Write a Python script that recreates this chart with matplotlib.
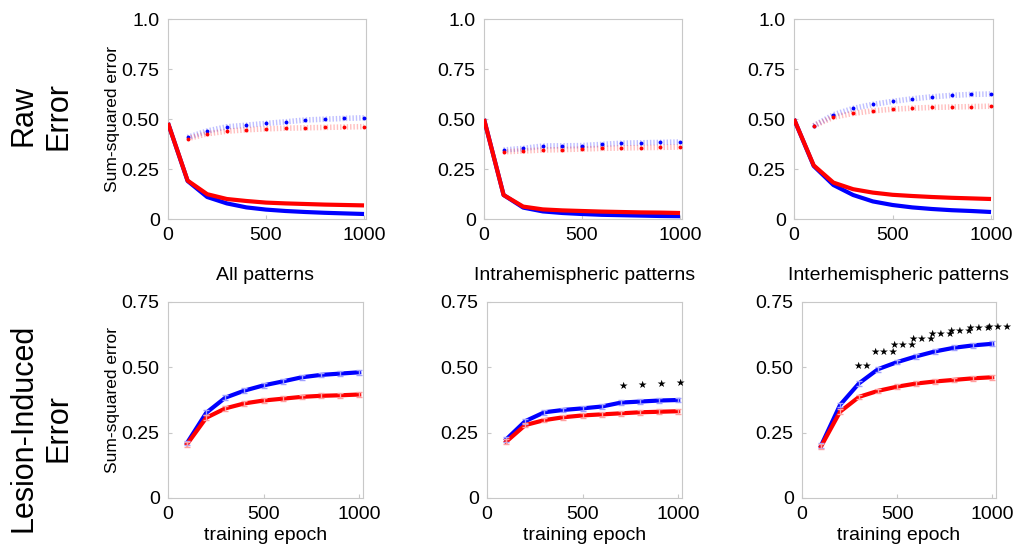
import numpy as np
import matplotlib
matplotlib.use('Agg')
import matplotlib.pyplot as plt

plt.rcParams['font.family'] = ['Liberation Sans', 'DejaVu Sans']

# --- Data ---
panel_titles = ["All patterns", "Intrahemispheric patterns", "Interhemispheric patterns"]
epochs_train = [0, 100, 200, 300, 400, 500, 600, 700, 800, 900, 1000]
epochs = [100, 200, 300, 400, 500, 600, 700, 800, 900, 1000]

# raw error, intact training curves (solid)
raw_blue = [
    [0.48, 0.19, 0.110, 0.078, 0.058, 0.047, 0.040, 0.035, 0.031, 0.028, 0.025],
    [0.50, 0.12, 0.057, 0.038, 0.030, 0.025, 0.021, 0.019, 0.017, 0.015, 0.014],
    [0.50, 0.265, 0.170, 0.120, 0.088, 0.070, 0.058, 0.050, 0.044, 0.040, 0.035],
]
raw_red = [
    [0.48, 0.192, 0.124, 0.100, 0.090, 0.082, 0.078, 0.075, 0.072, 0.070, 0.068],
    [0.50, 0.120, 0.062, 0.048, 0.043, 0.040, 0.037, 0.035, 0.033, 0.032, 0.030],
    [0.50, 0.268, 0.182, 0.149, 0.132, 0.121, 0.115, 0.110, 0.106, 0.103, 0.100],
]
# raw error after lesion (dotted)
les_blue = [
    [0.408, 0.440, 0.461, 0.469, 0.478, 0.486, 0.495, 0.499, 0.503, 0.506],
    [0.345, 0.353, 0.365, 0.366, 0.367, 0.373, 0.379, 0.381, 0.383, 0.385],
    [0.466, 0.521, 0.553, 0.573, 0.588, 0.601, 0.611, 0.618, 0.623, 0.625],
]
les_red = [
    [0.402, 0.426, 0.439, 0.446, 0.451, 0.454, 0.456, 0.458, 0.460, 0.462],
    [0.336, 0.340, 0.345, 0.347, 0.350, 0.353, 0.355, 0.357, 0.358, 0.360],
    [0.466, 0.509, 0.528, 0.541, 0.549, 0.554, 0.558, 0.560, 0.562, 0.564],
]
# lesion-induced error
ind_blue = [
    [0.211, 0.326, 0.384, 0.411, 0.431, 0.446, 0.462, 0.471, 0.476, 0.481],
    [0.224, 0.294, 0.328, 0.337, 0.343, 0.350, 0.365, 0.369, 0.373, 0.375],
    [0.200, 0.356, 0.439, 0.493, 0.520, 0.542, 0.561, 0.575, 0.584, 0.590],
]
ind_red = [
    [0.206, 0.307, 0.343, 0.362, 0.373, 0.380, 0.387, 0.391, 0.393, 0.396],
    [0.215, 0.279, 0.298, 0.309, 0.316, 0.320, 0.324, 0.328, 0.330, 0.332],
    [0.197, 0.330, 0.387, 0.410, 0.426, 0.438, 0.446, 0.452, 0.458, 0.462],
]
ind_err = 0.009
# significance markers per epoch
sig = [
    [""] * 10,
    ["", "", "", "", "", "", "*", "*", "*", "*"],
    ["", "", "**", "***", "***", "***", "***", "***", "***", "***"],
]

W, H = 1015, 548
fig = plt.figure(figsize=(W / 100, H / 100), dpi=100)

top_pos = [(168, 198), (484, 198), (794, 199)]
bot_pos = [(168, 195), (487, 195), (802, 194)]

def style(ax):
    for s in ax.spines.values():
        s.set_color('#c8c8c8')
        s.set_linewidth(0.8)
    ax.tick_params(direction='in', length=3, color='#c8c8c8', labelsize=14, pad=6)

for i in range(3):
    x0, w = top_pos[i]
    ax = fig.add_axes([x0 / W, 1 - 219 / H, w / W, 200 / H])
    ax.plot(epochs_train, raw_blue[i], color='blue', lw=3, solid_capstyle='butt', zorder=3)
    ax.plot(epochs_train, raw_red[i], color='red', lw=3, solid_capstyle='butt', zorder=4)
    ax.plot(epochs, les_blue[i], color='blue', lw=4, ls=(0, (0.25, 0.35)), alpha=0.25, zorder=2)
    ax.plot(epochs, les_red[i], color='red', lw=4, ls=(0, (0.25, 0.35)), alpha=0.25, zorder=2)
    ax.plot(epochs, les_blue[i], ls='none', marker='o', ms=2.8, mew=0, color='blue', zorder=3)
    ax.plot(epochs, les_red[i], ls='none', marker='o', ms=2.8, mew=0, color='red', zorder=3)
    ax.set_xlim(0, 1010)
    ax.set_ylim(0, 1.0)
    ax.set_xticks([0, 500, 1000])
    ax.set_yticks([0, 0.25, 0.5, 0.75, 1.0])
    ax.set_yticklabels(["0", "0.25", "0.50", "0.75", "1.0"])
    style(ax)
    if i == 0:
        ax.set_ylabel("Sum-squared error", fontsize=12.5, labelpad=1)

for i in range(3):
    x0, w = bot_pos[i]
    ax = fig.add_axes([x0 / W, 1 - 498 / H, w / W, 196 / H])
    ax.plot(epochs, ind_blue[i], color='blue', lw=3, zorder=3)
    ax.plot(epochs, ind_red[i], color='red', lw=3, zorder=4)
    ax.errorbar(epochs, ind_blue[i], yerr=ind_err, fmt='none', ecolor='#a0a0ff',
                elinewidth=1, capsize=2, zorder=5)
    ax.errorbar(epochs, ind_red[i], yerr=ind_err, fmt='none', ecolor='#ffa0a0',
                elinewidth=1, capsize=2, zorder=5)
    for e, yb, s in zip(epochs, ind_blue[i], sig[i]):
        if s:
            ax.text(e + 10 * len(s), yb + 0.065, "\u2605" * len(s), ha='center', va='center',
                    fontsize=7.5, color='black', family=['DejaVu Sans'], clip_on=False)
    ax.set_xlim(0, 1020)
    ax.set_ylim(0, 0.75)
    ax.set_xticks([0, 500, 1000])
    ax.set_yticks([0, 0.25, 0.5, 0.75])
    ax.set_yticklabels(["0", "0.25", "0.50", "0.75"])
    style(ax)
    ax.set_title(panel_titles[i], fontsize=14, pad=16)
    ax.set_xlabel("training epoch", fontsize=14, labelpad=3)
    if i == 0:
        ax.set_ylabel("Sum-squared error", fontsize=12.5, labelpad=1)

fig.text(41 / W, 1 - 116 / H, "Raw\nError", rotation=90, ha='center', va='center',
         fontsize=22, multialignment='center', linespacing=1.25)
fig.text(41 / W, 1 - 428 / H, "Lesion-Induced\nError", rotation=90, ha='center', va='center',
         fontsize=22, multialignment='center', linespacing=1.25)

fig.savefig('out.png', dpi=100)
